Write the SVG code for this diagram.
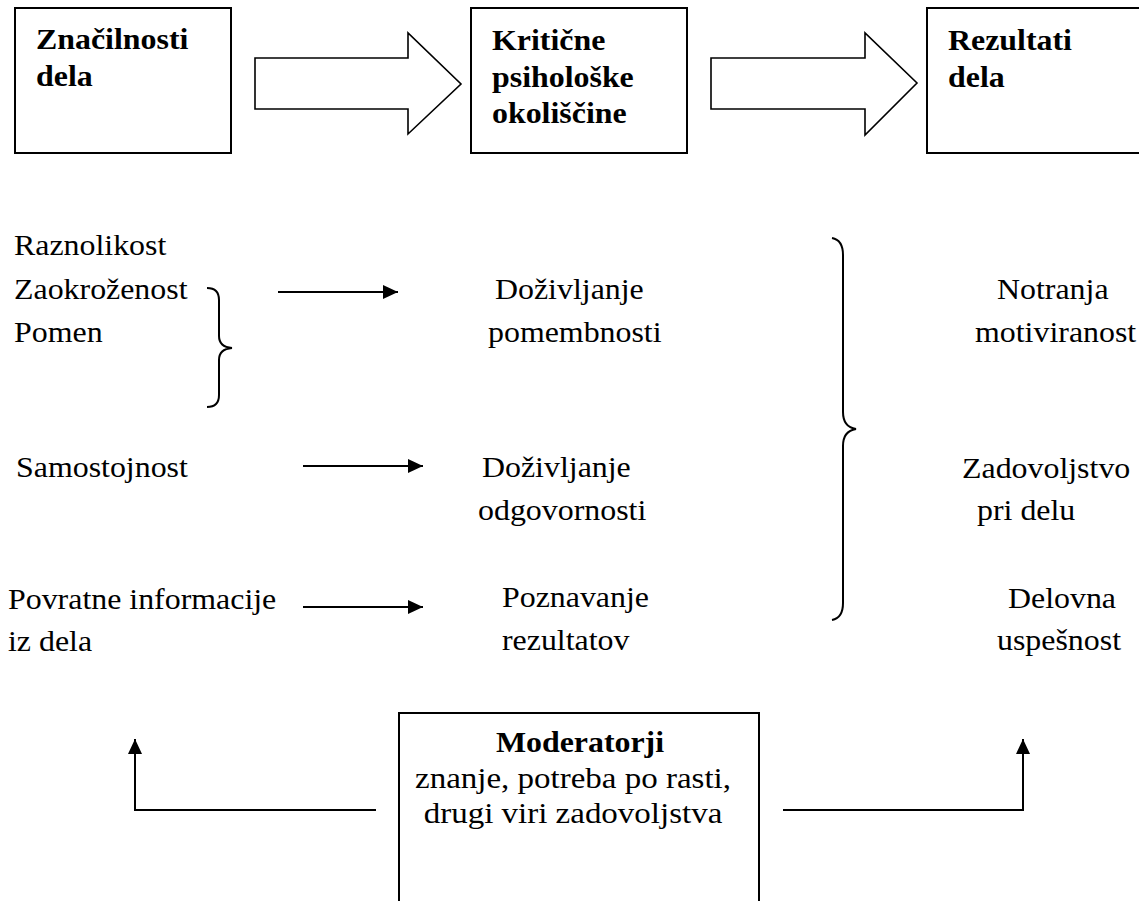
<svg xmlns="http://www.w3.org/2000/svg" width="1139" height="901" viewBox="0 0 1139 901">
<style>
text{font-family:'Liberation Serif','Times New Roman','DejaVu Serif',serif;font-size:29px;fill:#000}
.b{font-weight:bold}
.m{font-size:30px}
.box{fill:#fff;stroke:#000;stroke-width:2}
.blk{fill:#fff;stroke:#000;stroke-width:1.6;stroke-linejoin:miter}
.ln{fill:none;stroke:#000;stroke-width:2}
.br{fill:none;stroke:#000;stroke-width:2}
</style>
<defs>
<marker id="ah" markerWidth="16" markerHeight="14" refX="15" refY="7" orient="auto" markerUnits="userSpaceOnUse">
<path d="M0,0 L15,7 L0,14 Z" fill="#000"/>
</marker>
</defs>
<rect width="1139" height="901" fill="#fff"/>
<g id="node-znacilnosti">
<rect class="box" x="15" y="8" width="216" height="145"/>
<text class="b" transform="translate(36,49) scale(1.1,1)">Značilnosti</text>
<text class="b" transform="translate(36,86) scale(1.1,1)">dela</text>
</g>
<g id="node-kriticne">
<rect class="box" x="471" y="8" width="216" height="145"/>
<text class="b" transform="translate(492,50) scale(1.1,1)">Kritične</text>
<text class="b" transform="translate(492,87) scale(1.1,1)">psihološke</text>
<text class="b" transform="translate(492,123) scale(1.1,1)">okoliščine</text>
</g>
<g id="node-rezultati">
<rect class="box" x="927" y="8" width="230" height="145"/>
<text class="b" transform="translate(948,50) scale(1.1,1)">Rezultati</text>
<text class="b" transform="translate(948,87) scale(1.1,1)">dela</text>
</g>
<g id="node-left-col">
<text transform="translate(14,255) scale(1.1,1)">Raznolikost</text>
<text transform="translate(14,299) scale(1.1,1)">Zaokroženost</text>
<text transform="translate(14,342) scale(1.1,1)">Pomen</text>
<text transform="translate(16,477) scale(1.1,1)">Samostojnost</text>
<text transform="translate(8,609) scale(1.1,1)">Povratne informacije</text>
<text transform="translate(8,651) scale(1.1,1)">iz dela</text>
</g>
<g id="node-middle-col">
<text transform="translate(495,299) scale(1.1,1)">Doživljanje</text>
<text transform="translate(488,342) scale(1.1,1)">pomembnosti</text>
<text transform="translate(482,477) scale(1.1,1)">Doživljanje</text>
<text transform="translate(478,520) scale(1.1,1)">odgovornosti</text>
<text transform="translate(502,607) scale(1.1,1)">Poznavanje</text>
<text transform="translate(502,650) scale(1.1,1)">rezultatov</text>
</g>
<g id="node-right-col">
<text transform="translate(997,299) scale(1.1,1)">Notranja</text>
<text transform="translate(975,342) scale(1.1,1)">motiviranost</text>
<text transform="translate(962,478) scale(1.1,1)">Zadovoljstvo</text>
<text transform="translate(977,520) scale(1.1,1)">pri delu</text>
<text transform="translate(1008,608) scale(1.1,1)">Delovna</text>
<text transform="translate(997,650) scale(1.1,1)">uspešnost</text>
</g>
<g id="node-moderatorji">
<rect class="box" x="399" y="713" width="360" height="200"/>
<text class="b" text-anchor="middle" transform="translate(580,752) scale(1.1,1)">Moderatorji</text>
<text class="m" text-anchor="middle" transform="translate(573,788) scale(1.1,1)">znanje, potreba po rasti,</text>
<text class="m" text-anchor="middle" transform="translate(573,823) scale(1.1,1)">drugi viri zadovoljstva</text>
</g>
<g id="connectors">
<polygon class="blk" points="255,58 408,58 408,33 461,84 408,134 408,109 255,109"/>
<polygon class="blk" points="711,58 865,58 865,33 917,83 865,135 865,109 711,109"/>
<path class="br" d="M207,288 Q219,288 219,300 L219,336 Q219,347 232,348 Q219,349 219,360 L219,395 Q219,407 207,407"/>
<path class="br" d="M832,238 Q843,240 843,255 L843,412 Q843,427 856,429 Q843,431 843,446 L843,603 Q843,618 832,620"/>
<line class="ln" x1="278" y1="292" x2="398" y2="292" marker-end="url(#ah)"/>
<line class="ln" x1="303" y1="466" x2="423" y2="466" marker-end="url(#ah)"/>
<line class="ln" x1="303" y1="607" x2="423" y2="607" marker-end="url(#ah)"/>
<polyline class="ln" points="376,810 135,810 135,739" marker-end="url(#ah)"/>
<polyline class="ln" points="783,810 1023,810 1023,739" marker-end="url(#ah)"/>
</g>
</svg>
